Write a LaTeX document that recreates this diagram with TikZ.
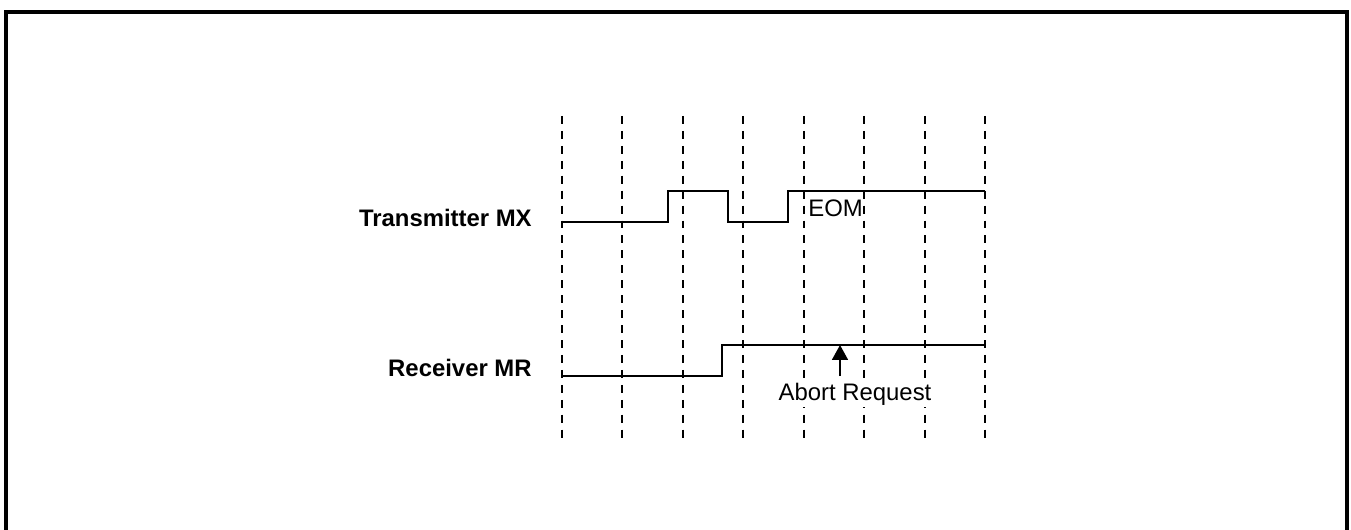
\documentclass[tikz,border=0pt]{standalone}
\usepackage{fontspec}
\setmainfont{Liberation Sans}
\usetikzlibrary{arrows.meta}
\tikzset{
	marco/.style={
		line width=2pt,
		black
	},
	rejilla/.style={
		line width=1.1pt,
		dash pattern=on 4.5pt off 4pt
	},
	senal/.style={
		line width=1.2pt,
		line join=miter
	},
	etiqueta/.style={
		anchor=base east,
		inner sep=0pt,
		font=\fontsize{13.6}{16}\selectfont\bfseries
	},
	texto/.style={
		inner xsep=0pt,
		inner ysep=1pt,
		fill=white,
		font=\fontsize{13.6}{16}\selectfont
	},
	flecha/.style={
		-{Triangle[length=3mm,width=3.2mm]},
		line width=1pt
	}
}

\begin{document}
\begin{tikzpicture}[x=0.02cm, y=-0.02cm]
		\useasboundingbox (0,0) rectangle (1351,530);
		\draw[marco] (6,535) -- (6,12) -- (1347,12) -- (1347,535);
		\foreach \i in {0,...,7}
			\draw[rejilla] ({562+60.43*\i},116) -- ({562+60.43*\i},443);
		\node[etiqueta] (transmisor) at (532,226) {Transmitter MX};
		\node[etiqueta] (receptor) at (532,376) {Receiver MR};
		\draw[senal] (562,222) -- (668,222) -- (668,191) -- (728,191) -- (728,222)
			-- (788,222) -- (788,191) -- (985,191);
		\draw[senal] (562,376) -- (722,376) -- (722,345) -- (985,345);
		\node[texto, anchor=base west] (eom) at (808,216) {EOM};
		\node[texto, anchor=base] (aborto) at (855,400) {Abort Request};
		\coordinate (abortoBase) at (840,376);
		\coordinate (abortoPunta) at (840,345);
		\draw[flecha] (abortoBase) -- (abortoPunta);
	\end{tikzpicture}
\end{document}
